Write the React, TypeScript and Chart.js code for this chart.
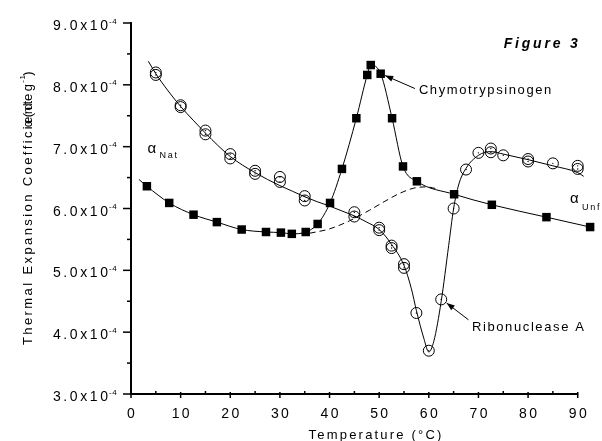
import React, { useEffect, useRef } from "react";
import { Chart, registerables } from "chart.js";

Chart.register(...registerables);

// ---- axis ticks ----
const xTicks = [0, 10, 20, 30, 40, 50, 60, 70, 80, 90];
const yTicks = [3, 4, 5, 6, 7, 8, 9];
const yTickLabels = ["3.0x10", "4.0x10", "5.0x10", "6.0x10", "7.0x10", "8.0x10", "9.0x10"];
const yTickExp = "-4";

// ---- Chymotrypsinogen (filled squares) ----
const chymoX = [3.2, 7.7, 12.6, 17.3, 22.3, 27.2, 30.2, 32.4, 35.2, 37.6, 40.1, 42.5, 45.4, 47.6, 48.3, 50.3, 52.6, 54.8, 57.6, 65.1, 72.7, 83.7, 92.5];
const chymoY = [6.36, 6.09, 5.90, 5.78, 5.66, 5.62, 5.61, 5.59, 5.62, 5.75, 6.09, 6.64, 7.46, 8.16, 8.32, 8.18, 7.46, 6.68, 6.44, 6.23, 6.06, 5.86, 5.70];
const chymoLineStartX = 1.6;
const chymoLineStartY = 6.47;

// ---- Ribonuclease A (open circles) ----
const riboX = [5, 5, 10, 10, 15, 15, 20, 20, 25, 25, 30, 30, 35, 35, 45, 45, 50, 50, 52.5, 52.5, 55, 55, 57.5, 60, 62.5, 65, 67.5, 70, 72.5, 72.5, 75, 80, 80, 85, 90, 90];
const riboY = [8.20, 8.16, 7.67, 7.64, 7.26, 7.20, 6.88, 6.81, 6.61, 6.56, 6.51, 6.43, 6.20, 6.13, 5.94, 5.87, 5.69, 5.65, 5.40, 5.36, 5.10, 5.04, 4.31, 3.70, 4.53, 6.00, 6.63, 6.90, 6.97, 6.91, 6.86, 6.80, 6.76, 6.73, 6.69, 6.64];

// ---- Ribonuclease A fitted curve ----
const riboFitX = [3.5, 5, 7.5, 10, 12.5, 15, 17.5, 20, 22.5, 25, 27.5, 30, 32.5, 35, 37.5, 40, 42.5, 45, 47.5, 50, 52.5, 55, 56.5, 57.5, 59, 60, 61, 62.5, 64, 65, 66, 67.5, 70, 72.5, 75, 80, 85, 90, 91.2];
const riboFitY = [8.38, 8.18, 7.90, 7.65, 7.43, 7.22, 7.02, 6.84, 6.70, 6.58, 6.47, 6.37, 6.28, 6.19, 6.11, 6.04, 5.96, 5.88, 5.78, 5.66, 5.42, 5.08, 4.70, 4.35, 3.90, 3.68, 3.85, 4.50, 5.40, 6.00, 6.38, 6.65, 6.86, 6.92, 6.88, 6.79, 6.69, 6.58, 6.52];

// ---- dashed baseline ----
const baseX = [36, 40, 44, 48, 51, 54, 57, 59.5, 62];
const baseY = [5.60, 5.67, 5.80, 5.97, 6.11, 6.24, 6.33, 6.35, 6.31];

const pts = (xs: number[], ys: number[]) => xs.map((x, i) => ({ x, y: ys[i] }));

const FONT = "'Liberation Sans', Arial, sans-serif";

function spaced(ctx: CanvasRenderingContext2D, text: string, x: number, y: number, font: string, spacing: number, align: "left" | "right" | "center" = "left") {
  ctx.font = font;
  (ctx as any).letterSpacing = spacing + "px";
  const w = ctx.measureText(text).width - spacing;
  let sx = x;
  if (align === "right") sx = x - w;
  else if (align === "center") sx = x - w / 2;
  ctx.textAlign = "left";
  ctx.fillText(text, sx, y);
  return w + spacing;
}

const decorPlugin = {
  id: "decor",
  afterDraw(chart: any) {
    const ctx: CanvasRenderingContext2D = chart.ctx;
    const xs = chart.scales.x;
    const ys = chart.scales.y;
    const area = chart.chartArea;
    ctx.save();
    ctx.strokeStyle = "#000";
    ctx.fillStyle = "#000";
    ctx.textBaseline = "alphabetic";

    // x axis line (0..90)
    const x0 = xs.getPixelForValue(xTicks[0]);
    const x1 = xs.getPixelForValue(xTicks[xTicks.length - 1]);
    ctx.lineWidth = 2;
    ctx.beginPath();
    ctx.moveTo(x0 - 1, area.bottom);
    ctx.lineTo(x1 + 0.5, area.bottom);
    ctx.stroke();

    ctx.lineWidth = 1.5;
    // y ticks
    yTicks.forEach((v, i) => {
      const py = ys.getPixelForValue(v);
      ctx.beginPath();
      ctx.moveTo(area.left - 8, py);
      ctx.lineTo(area.left, py);
      ctx.stroke();
      if (i < yTicks.length - 1) {
        const pm = ys.getPixelForValue((v + yTicks[i + 1]) / 2);
        ctx.beginPath();
        ctx.moveTo(area.left - 4, pm);
        ctx.lineTo(area.left, pm);
        ctx.stroke();
      }
      spaced(ctx, yTickLabels[i], area.left - 23, py + 7, `14px ${FONT}`, 2.6, "right");
      spaced(ctx, yTickExp, area.left - 22, py + 0.5, `8px ${FONT}`, 0.5, "left");
    });

    // x ticks
    xTicks.forEach((v, i) => {
      const px = xs.getPixelForValue(v);
      ctx.beginPath();
      ctx.moveTo(px, area.bottom - 2);
      ctx.lineTo(px, area.bottom + 4);
      ctx.stroke();
      if (i < xTicks.length - 1) {
        const pm = xs.getPixelForValue((v + xTicks[i + 1]) / 2);
        ctx.beginPath();
        ctx.moveTo(pm, area.bottom - 3);
        ctx.lineTo(pm, area.bottom + 1);
        ctx.stroke();
      }
      spaced(ctx, String(v), px, area.bottom + 24, `14px ${FONT}`, 2.4, "center");
    });

    // x title
    spaced(ctx, "Temperature (°C)", 375, 439, `13px ${FONT}`, 2.2, "center");

    // y title (rotated)
    ctx.save();
    ctx.translate(32, 345);
    ctx.rotate(-Math.PI / 2);
    const tf = `13px ${FONT}`;
    spaced(ctx, "Thermal Expansion Coefficient", 0, 0, tf, 2.4, "left");
    ctx.font = tf;
    (ctx as any).letterSpacing = "2.4px";
    const off = ctx.measureText("Thermal Expansion Coeffic").width + 2;
    const w = spaced(ctx, "α(deg", off, 0, tf, 2.4, "left");
    spaced(ctx, "-1", off + w - 1, -7, `8px ${FONT}`, 0.5, "left");
    spaced(ctx, ")", off + w + 6, 0, tf, 2.4, "left");
    ctx.restore();

    // Figure 3
    spaced(ctx, "Figure 3", x1, 48, `italic bold 14px ${FONT}`, 2.8, "right");

    // alpha labels
    const aNx = xs.getPixelForValue(3.3), aNy = ys.getPixelForValue(6.97);
    spaced(ctx, "α", aNx, aNy + 4, `15px ${FONT}`, 0, "left");
    spaced(ctx, "Nat", aNx + 12, aNy + 9.5, `9px ${FONT}`, 1.8, "left");
    const aUx = xs.getPixelForValue(88.45), aUy = ys.getPixelForValue(6.15);
    spaced(ctx, "α", aUx, aUy + 4, `15px ${FONT}`, 0, "left");
    spaced(ctx, "Unf", aUx + 12, aUy + 11, `9px ${FONT}`, 1.8, "left");

    // annotation labels with arrows
    const arrow = (ax: number, ay: number, bx: number, by: number) => {
      const ax1 = xs.getPixelForValue(ax), ay1 = ys.getPixelForValue(ay);
      const ax2 = xs.getPixelForValue(bx), ay2 = ys.getPixelForValue(by);
      ctx.lineWidth = 1;
      ctx.beginPath();
      ctx.moveTo(ax1, ay1);
      ctx.lineTo(ax2, ay2);
      ctx.stroke();
      const ang = Math.atan2(ay2 - ay1, ax2 - ax1);
      const L = 8, H = 3;
      ctx.beginPath();
      ctx.moveTo(ax2, ay2);
      ctx.lineTo(ax2 - L * Math.cos(ang) + H * Math.sin(ang), ay2 - L * Math.sin(ang) - H * Math.cos(ang));
      ctx.lineTo(ax2 - L * Math.cos(ang) - H * Math.sin(ang), ay2 - L * Math.sin(ang) + H * Math.cos(ang));
      ctx.closePath();
      ctx.fill();
    };
    arrow(57.2, 7.94, 51.2, 8.15);
    spaced(ctx, "Chymotrypsinogen", xs.getPixelForValue(58.0), ys.getPixelForValue(7.93) + 5, `13px ${FONT}`, 1.6, "left");
    arrow(68.0, 4.20, 63.6, 4.47);
    spaced(ctx, "Ribonuclease A", xs.getPixelForValue(68.7), ys.getPixelForValue(4.10) + 5, `13px ${FONT}`, 1.6, "left");

    ctx.restore();
  },
};

export default function App() {
  const ref = useRef<HTMLCanvasElement | null>(null);
  useEffect(() => {
    if (!ref.current) return;
    const chart = new Chart(ref.current, {
      type: "scatter",
      data: {
        datasets: [
          {
            label: "Ribonuclease A fit",
            type: "line",
            data: pts(riboFitX, riboFitY),
            borderColor: "#000",
            borderWidth: 1,
            pointRadius: 0,
            cubicInterpolationMode: "monotone",
            fill: false,
            clip: false,
          } as any,
          {
            label: "Chymotrypsinogen line",
            type: "line",
            data: [{ x: chymoLineStartX, y: chymoLineStartY }, ...pts(chymoX, chymoY)],
            borderColor: "#000",
            borderWidth: 1,
            pointRadius: 0,
            cubicInterpolationMode: "monotone",
            fill: false,
            clip: false,
          } as any,
          {
            label: "Baseline",
            type: "line",
            data: pts(baseX, baseY),
            borderColor: "#000",
            borderWidth: 1,
            borderDash: [6, 4],
            pointRadius: 0,
            cubicInterpolationMode: "monotone",
            fill: false,
            clip: false,
          } as any,
          {
            label: "Chymotrypsinogen",
            data: pts(chymoX, chymoY),
            pointStyle: "rect",
            pointRadius: 6,
            backgroundColor: "#000",
            borderColor: "#000",
            borderWidth: 0,
            showLine: false,
            clip: false,
          } as any,
          {
            label: "Ribonuclease A",
            data: pts(riboX, riboY),
            pointStyle: "circle",
            pointRadius: 5.5,
            backgroundColor: "rgba(0,0,0,0)",
            borderColor: "#000",
            borderWidth: 1,
            showLine: false,
            clip: false,
          } as any,
          {
            label: "Ribonuclease A centers",
            data: pts(riboX, riboY),
            pointStyle: "circle",
            pointRadius: 0.7,
            backgroundColor: "#000",
            borderWidth: 0,
            showLine: false,
            clip: false,
          } as any,
        ],
      },
      options: {
        responsive: false,
        animation: false,
        layout: { padding: { top: 23, right: 9.4, left: 0, bottom: 0 } },
        plugins: { legend: { display: false }, tooltip: { enabled: false } },
        scales: {
          x: {
            type: "linear",
            min: 0,
            max: 93,
            grid: { display: false, drawTicks: false },
            border: { display: false },
            ticks: { display: false },
            afterFit: (s: any) => { s.height = 47; },
          },
          y: {
            type: "linear",
            min: 3,
            max: 9,
            grid: { display: false, drawTicks: false },
            border: { display: true, color: "#000", width: 2 },
            ticks: { display: false },
            afterFit: (s: any) => { s.width = 131; },
          },
        },
      } as any,
      plugins: [decorPlugin],
    });
    return () => chart.destroy();
  }, []);
  return (
    <div style={{ position: "absolute", left: 0, top: 0, width: 602, height: 441, background: "#fff" }}>
      <canvas ref={ref} width={602} height={441} style={{ display: "block" }} />
    </div>
  );
}
